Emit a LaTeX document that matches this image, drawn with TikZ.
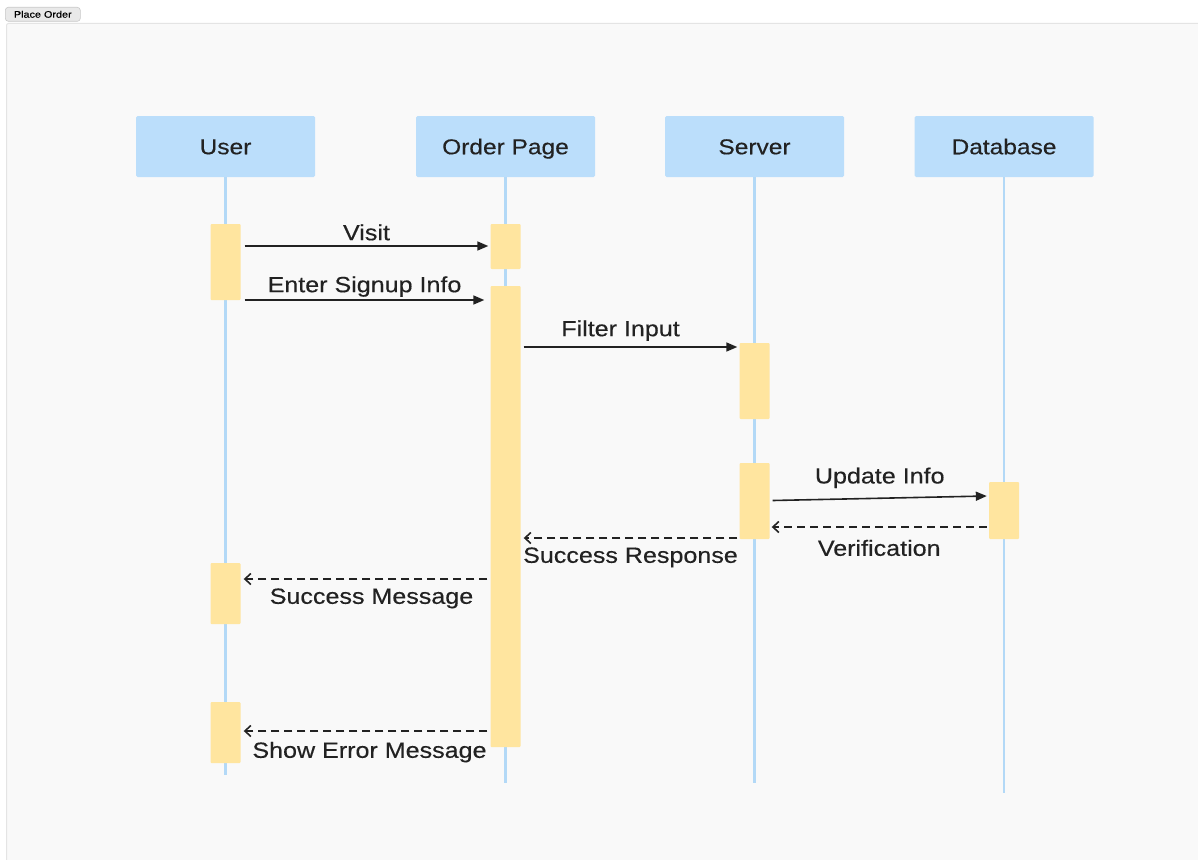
\documentclass[tikz,border=0pt]{standalone}
\usepackage{fontspec}
\setmainfont{Liberation Sans}[FakeStretch=1.14, FakeBold=0.35]
\usetikzlibrary{arrows.meta}
\definecolor{panelbg}{HTML}{F9F9F9}
\definecolor{panelline}{HTML}{E4E4E4}
\definecolor{headfill}{HTML}{BBDEFB}
\definecolor{lifeline}{HTML}{B3D9F7}
\definecolor{actfill}{HTML}{FFE59F}
\definecolor{txt}{HTML}{222222}
\definecolor{btnfill}{HTML}{E9E9E9}
\definecolor{btnline}{HTML}{C8C8C8}
\tikzset{
  header/.style={fill=headfill, draw=none, minimum width=179pt, minimum height=61pt, inner sep=0pt, rounded corners=1.5pt, font=\fontsize{21.5}{24}\selectfont, text=txt, text height=15.5pt, text depth=0pt},
  lifel/.style={draw=lifeline, line width=2.2pt},
  act/.style={fill=actfill, draw=none, minimum width=30pt, inner sep=0pt, rounded corners=1pt},
  sync/.style={draw=txt, line width=1.6pt, -{Stealth[length=11pt,width=9pt,inset=0pt]}},
  reply/.style={draw=txt, line width=1.6pt, dash pattern=on 8pt off 5pt, -{Straight Barb[length=6pt,width=11pt]}},
  lbl/.style={font=\fontsize{22}{24}\selectfont, text=txt, inner sep=0pt, text height=16pt, text depth=5pt}
}
\begin{document}
\begin{tikzpicture}[x=1pt,y=-1pt]
\useasboundingbox (0,0) rectangle (1198,859);
\fill[white] (0,0) rectangle (1198,859);
% panel
\draw[panelline, fill=panelbg, line width=1pt, rounded corners=2pt] (6.5,23.5) rectangle (1205,870);
% button
\node[fill=btnfill, draw=btnline, line width=0.6pt, rounded corners=3pt, inner xsep=5pt, inner ysep=2pt, minimum height=14pt, minimum width=75pt, font=\fontsize{9.5}{10}\selectfont, anchor=north west] (btn) at (5,7) {Place Order};
% headers
\node[header] (hU) at (225.5,146.5) {User};
\node[header] (hO) at (505.5,146.5) {Order Page};
\node[header] (hS) at (754.5,146.5) {Server};
\node[header] (hD) at (1004,146.5) {Database};
% lifeline ends
\coordinate (eU) at (225.5,775);
\coordinate (eO) at (505.5,783);
\coordinate (eS) at (754.5,783);
\coordinate (eD) at (1004,793);
\draw[lifel] (hU.south) -- (eU);
\draw[lifel] (hO.south) -- (eO);
\draw[lifel] (hS.south) -- (eS);
\draw[lifel] (hD.south) -- (eD);
% activations
\node[act, minimum height=76pt] (u1) at (225.5,262) {};
\node[act, minimum height=61pt] (u2) at (225.5,593.5) {};
\node[act, minimum height=61pt] (u3) at (225.5,732.5) {};
\node[act, minimum height=45pt] (o1) at (505.5,246.5) {};
\node[act, minimum height=461pt] (o2) at (505.5,516.5) {};
\node[act, minimum height=76pt] (s1) at (754.5,381) {};
\node[act, minimum height=76pt] (s2) at (754.5,501) {};
\node[act, minimum height=57pt] (d1) at (1004,510.5) {};
% messages
\draw[sync] ([xshift=4pt]u1.east |- 0,246) -- ([xshift=-2pt]o1.west |- 0,246)
  node[lbl, midway, above=0pt] {Visit};
\draw[sync] ([xshift=4pt]u1.east |- 0,300) -- ([xshift=-6pt]o2.west |- 0,300)
  node[lbl, midway, above=2pt] {Enter Signup Info};
\draw[sync] ([xshift=3pt]o2.east |- 0,347) -- ([xshift=-2pt]s1.west |- 0,347)
  node[lbl, midway, above=5pt, xshift=-10pt] {Filter Input};
\draw[sync] ([xshift=3pt]s2.east |- 0,500.5) -- ([xshift=-2pt]d1.west |- 0,496)
  node[lbl, midway, above=9pt] {Update Info};
\draw[reply] ([xshift=-2pt]d1.west |- 0,527) -- ([xshift=2pt]s2.east |- 0,527)
  node[lbl, midway, below=12pt] {Verification};
\draw[reply] ([xshift=-2pt]s2.west |- 0,538) -- ([xshift=3pt]o2.east |- 0,538)
  node[lbl, midway, below=8pt] {Success Response};
\draw[reply] ([xshift=-3pt]o2.west |- 0,579) -- ([xshift=3pt]u2.east |- 0,579)
  node[lbl, midway, below=8pt, xshift=6pt] {Success Message};
\draw[reply] ([xshift=-3pt]o2.west |- 0,731) -- ([xshift=3pt]u3.east |- 0,731)
  node[lbl, midway, below=10pt, xshift=4pt] {Show Error Message};
\end{tikzpicture}
\end{document}
